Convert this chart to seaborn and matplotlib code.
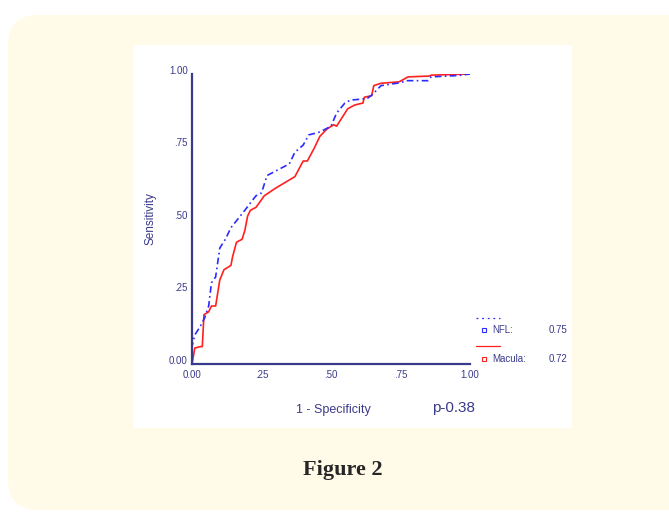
import numpy as np
import pandas as pd
import matplotlib
matplotlib.use("Agg")
import matplotlib.pyplot as plt
import matplotlib.transforms as mtransforms
import seaborn as sns
from matplotlib.patches import FancyBboxPatch, Rectangle
from matplotlib.lines import Line2D

# ROC points (1 - specificity, sensitivity)
nfl_fpr = [0.0, 0.0, 0.01, 0.03, 0.046, 0.06, 0.07, 0.085, 0.10, 0.12, 0.14, 0.19,
           0.23, 0.25, 0.27, 0.31, 0.35, 0.37, 0.40, 0.42, 0.46, 0.50, 0.52, 0.55,
           0.57, 0.63, 0.65, 0.68, 0.75, 0.77, 0.85, 0.86, 0.96, 1.0]
nfl_tpr = [0.0, 0.06, 0.10, 0.13, 0.16, 0.20, 0.28, 0.30, 0.40, 0.43, 0.47, 0.53,
           0.58, 0.59, 0.65, 0.67, 0.69, 0.73, 0.755, 0.79, 0.80, 0.82, 0.865, 0.90,
           0.91, 0.915, 0.93, 0.96, 0.97, 0.977, 0.977, 0.99, 0.995, 1.0]

mac_fpr = [0.0, 0.003, 0.01, 0.03, 0.037, 0.043, 0.06, 0.07, 0.085, 0.09, 0.10, 0.115,
           0.14, 0.146, 0.16, 0.18, 0.19, 0.20, 0.21, 0.23, 0.26, 0.30, 0.37, 0.40,
           0.415, 0.44, 0.46, 0.485, 0.51, 0.52, 0.56, 0.585, 0.615, 0.62, 0.646,
           0.654, 0.68, 0.745, 0.777, 0.855, 0.86, 1.0]
mac_tpr = [0.0, 0.015, 0.055, 0.06, 0.06, 0.17, 0.18, 0.20, 0.20, 0.23, 0.29, 0.325,
           0.34, 0.37, 0.42, 0.43, 0.46, 0.51, 0.53, 0.54, 0.58, 0.606, 0.646, 0.70,
           0.70, 0.745, 0.785, 0.81, 0.825, 0.82, 0.88, 0.893, 0.90, 0.92, 0.925,
           0.96, 0.968, 0.973, 0.99, 0.993, 0.996, 1.0]

ticks = [0.0, 0.25, 0.5, 0.75, 1.0]
tick_labels = ["0.00", ".25", ".50", ".75", "1.00"]
legend_names = ["NFL:", "Macula:"]
legend_auc = ["0.75", "0.72"]

NAVY = "#3a3a8c"
BLUE = "#2b2bff"
RED = "#ff2020"
CREAM = "#fffbe8"

sns.set_style("white")
plt.rcParams['font.family'] = ['Liberation Sans', 'DejaVu Sans']

fig = plt.figure(figsize=(6.69, 5.15), dpi=100)
fig.patch.set_facecolor("white")
W, H = 669, 515

# cream rounded card and white chart panel (behind the axes)
card = FancyBboxPatch((8 / W, 5 / H), 700 / W, 495 / H,
                      boxstyle="round,pad=0,rounding_size=0.045",
                      transform=fig.transFigure, facecolor=CREAM,
                      edgecolor="none", zorder=-2, mutation_aspect=W / H)
fig.patches.append(card)
panel = Rectangle((133 / W, (H - 428) / H), 439 / W, 383 / H,
                  transform=fig.transFigure, facecolor="white",
                  edgecolor="none", zorder=-1)
fig.patches.append(panel)

ax = fig.add_axes([192 / W, (H - 364) / H, 278 / W, 290 / H])
ax.set_facecolor("none")
ax.set_zorder(2)

nfl = pd.DataFrame({"fpr": nfl_fpr, "tpr": nfl_tpr})
mac = pd.DataFrame({"fpr": mac_fpr, "tpr": mac_tpr})
sns.lineplot(data=mac, x="fpr", y="tpr", sort=False, estimator=None,
             color=RED, lw=1.2, ax=ax)
sns.lineplot(data=nfl, x="fpr", y="tpr", sort=False, estimator=None,
             color=BLUE, lw=1.2, ax=ax, linestyle=(0, (4, 2, 1, 2)))

ax.set_xlim(0, 1)
ax.set_ylim(0, 1)
ax.set_xticks(ticks)
ax.set_xticklabels(tick_labels)
ax.set_yticks(ticks)
ax.set_yticklabels(tick_labels)
ax.tick_params(axis="both", colors=NAVY, labelsize=7, length=2, width=0.8,
               labelcolor=NAVY, pad=2)
ax.tick_params(axis="x", direction="in", pad=4)
ax.tick_params(axis="y", direction="out", pad=1)
for s in ["top", "right"]:
    ax.spines[s].set_visible(False)
for s in ["left", "bottom"]:
    ax.spines[s].set_color(NAVY)
    ax.spines[s].set_linewidth(1.6)

# y tick labels sit a little above their ticks
shift = mtransforms.ScaledTranslation(0, 3 / 72, fig.dpi_scale_trans)
for lab in ax.get_yticklabels():
    lab.set_transform(lab.get_transform() + shift)

ax.set_xlabel("")
ax.set_ylabel("Sensitivity", color=NAVY, fontsize=8.5, labelpad=9)

fig.text(333 / W, 1 - 410 / H, "1 - Specificity", color=NAVY, fontsize=9,
         ha="center", va="center")
fig.text(454 / W, 1 - 408 / H, "p-0.38", color=NAVY, fontsize=11,
         ha="center", va="center")

# legend block in the lower right
fig.add_artist(Line2D([476 / W, 500 / W], [1 - 318 / H, 1 - 318 / H],
                      transform=fig.transFigure, color=BLUE, lw=0.9,
                      linestyle=(0, (1.5, 3))))
fig.add_artist(Line2D([476 / W, 500 / W], [1 - 346 / H, 1 - 346 / H],
                      transform=fig.transFigure, color=RED, lw=0.9))
for i, (name, auc, c) in enumerate(zip(legend_names, legend_auc, [BLUE, RED])):
    yy = 1 - (330 + 29 * i) / H
    fig.add_artist(Line2D([484 / W], [yy], transform=fig.transFigure,
                          marker="s", markersize=3, markerfacecolor="white",
                          markeredgecolor=c, markeredgewidth=0.8, lw=0))
    fig.text(492 / W, yy, name, color=NAVY, fontsize=7, ha="left", va="center")
    fig.text(567 / W, yy, auc, color=NAVY, fontsize=7, ha="right", va="center")

fig.text(343 / W, 1 - 470 / H, "Figure 2", fontsize=16, fontweight="bold",
         family=["Liberation Serif", "DejaVu Serif"], ha="center", va="center")

fig.savefig("out.png", dpi=100)
